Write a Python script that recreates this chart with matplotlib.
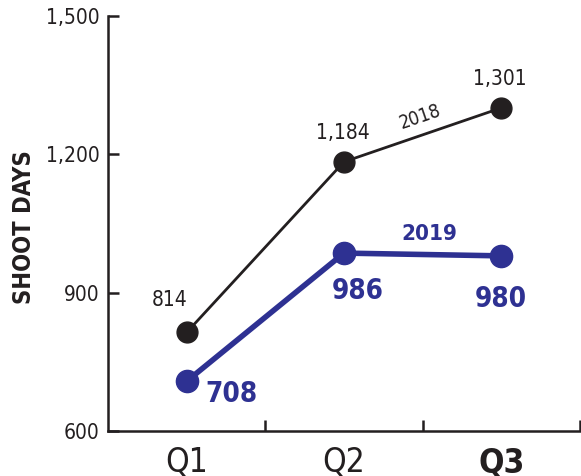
import matplotlib
matplotlib.use("Agg")
import matplotlib.pyplot as plt

quarters = ["Q1", "Q2", "Q3"]
days_2018 = [814, 1184, 1301]
days_2019 = [708, 986, 980]
y_ticks = [600, 900, 1200, 1500]

BLACK = "#231f20"
BLUE = "#2e3192"

plt.rcParams["font.family"] = ["DejaVu Sans"]
plt.rcParams["font.stretch"] = "condensed"

fig = plt.figure(figsize=(5.81, 4.76), dpi=100)
ax = fig.add_axes([0.186, 0.0945, 0.812, 0.8715])

x = list(range(len(quarters)))
ax.plot(x, days_2018, color=BLACK, lw=2, marker="o", ms=15, zorder=3)
ax.plot(x, days_2019, color=BLUE, lw=4, marker="o", ms=16, zorder=3)

ax.set_xlim(-0.5, 2.5)
ax.set_ylim(600, 1500)
ax.set_yticks(y_ticks)
ax.set_yticklabels([f"{v:,}" for v in y_ticks], fontsize=15, color=BLACK)
ax.set_xticks([0.5, 1.5, 2.5])
ax.set_xticklabels([])
ax.tick_params(axis="y", direction="in", length=8, width=1.8, pad=6, colors=BLACK)
ax.tick_params(axis="x", direction="in", length=8, width=1.8, colors=BLACK)
for s in ["top", "right"]:
    ax.spines[s].set_visible(False)
for s in ["left", "bottom"]:
    ax.spines[s].set_linewidth(1.8)
    ax.spines[s].set_color(BLACK)
    ax.spines[s].set_clip_on(False)

for i, q in enumerate(quarters):
    ax.annotate(q, (i, 600), xytext=(0, -11), textcoords="offset points",
                ha="center", va="top", fontsize=24, color=BLACK,
                fontweight="bold" if i == 2 else "normal", annotation_clip=False)

# 2018 labels (offsets in points)
off18 = [(-12, 23), (-1, 21), (-1, 21)]
for i, v in enumerate(days_2018):
    ax.annotate(f"{v:,}", (i, v), xytext=off18[i], textcoords="offset points",
                ha="center", va="center", fontsize=15, color=BLACK)
# 2019 labels
off19 = [(32, -9), (10, -27), (0, -31)]
for i, v in enumerate(days_2019):
    ax.annotate(f"{v:,}", (i, v), xytext=off19[i], textcoords="offset points",
                ha="center", va="center", fontsize=20, fontweight="bold", color=BLUE)

ax.annotate("2018", (1.5, (days_2018[1] + days_2018[2]) / 2), xytext=(-2, 13),
            textcoords="offset points", ha="center", va="center",
            fontsize=13.5, rotation=19, color=BLACK)
ax.annotate("2019", (1.5, (days_2019[1] + days_2019[2]) / 2), xytext=(5, 15),
            textcoords="offset points", ha="center", va="center",
            fontsize=16, fontweight="bold", color=BLUE)

fig.text(0.041, 0.523, "SHOOT DAYS", rotation=90, ha="center", va="center",
         fontsize=17, fontweight="bold", color=BLACK)

fig.savefig("out.png", dpi=100)
